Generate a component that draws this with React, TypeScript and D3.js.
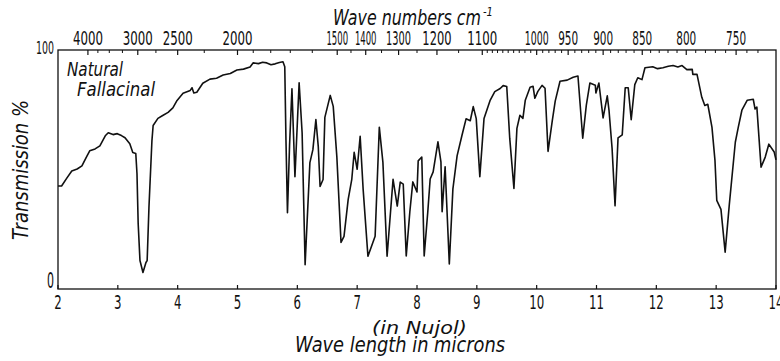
import React from "react";
import * as d3 from "d3";

// Spectrum trace: wavelength in microns, transmission in %
const wavelength = [
  2.0, 2.06, 2.15, 2.23, 2.32, 2.4, 2.47, 2.53, 2.62, 2.7, 2.79, 2.84, 2.92, 2.99, 3.06, 3.12, 3.2, 3.25, 3.3,
  3.32, 3.34, 3.37, 3.42, 3.47, 3.49, 3.52, 3.57, 3.59, 3.67, 3.75, 3.84, 3.92, 3.99, 4.09, 4.21, 4.24, 4.27, 4.32,
  4.42, 4.54, 4.65, 4.76, 4.88, 4.99, 5.1, 5.21, 5.26, 5.35, 5.42, 5.49, 5.56, 5.63, 5.7, 5.76, 5.79,
  5.81, 5.835, 5.87, 5.91, 5.96, 6.03, 6.08, 6.13, 6.21, 6.26, 6.31, 6.35, 6.38, 6.43, 6.46, 6.55, 6.6, 6.66,
  6.73, 6.78, 6.85, 6.91, 6.95, 7.0, 7.05, 7.1, 7.18, 7.3, 7.37, 7.43, 7.5, 7.6, 7.67, 7.72, 7.77, 7.82, 7.88,
  7.93, 8.0, 8.02, 8.08, 8.12, 8.18, 8.22, 8.27, 8.35, 8.4, 8.42, 8.47, 8.54, 8.6, 8.67, 8.75, 8.82, 8.89, 8.94,
  8.99, 9.05, 9.12, 9.22, 9.3, 9.39, 9.44, 9.5, 9.55, 9.62, 9.67, 9.72, 9.77, 9.81, 9.89, 9.94, 9.97, 10.02,
  10.09, 10.14, 10.19, 10.26, 10.31, 10.39, 10.51, 10.61, 10.69, 10.77, 10.83, 10.89, 10.98, 10.99, 11.04, 11.11,
  11.18, 11.21, 11.26, 11.31, 11.36, 11.43, 11.48, 11.53, 11.58, 11.64, 11.69, 11.76, 11.81, 11.94, 12.02, 12.11,
  12.2, 12.28, 12.36, 12.43, 12.51, 12.6, 12.61, 12.68, 12.76, 12.81, 12.86, 12.93, 12.98, 13.01, 13.08, 13.15,
  13.22, 13.32, 13.37, 13.43, 13.52, 13.62, 13.65, 13.68, 13.75, 13.82, 13.88, 13.97, 14.0,
];
const transmission = [
  43.1, 43.1, 46.5, 49.4, 50.2, 51.5, 55.0, 57.8, 58.6, 59.9, 64.1, 65.4, 64.6, 65.0, 64.2, 63.3, 60.8, 57.1, 56.7,
  48.3, 27.4, 11.9, 6.9, 11.1, 11.9, 34.1, 62.1, 68.4, 71.4, 72.6, 73.9, 75.8, 78.9, 81.9, 83.1, 84.2, 82.0, 82.3,
  86.1, 87.8, 88.2, 89.5, 90.2, 91.6, 92.0, 92.9, 94.6, 94.3, 94.9, 94.6, 93.8, 94.2, 94.8, 95.1, 93.0,
  62.4, 31.9, 60.0, 83.8, 47.0, 86.3, 65.4, 10.2, 52.9, 58.3, 70.9, 59.6, 42.9, 45.8, 71.8, 81.0, 76.4, 55.5,
  19.5, 22.0, 37.5, 45.9, 57.2, 50.1, 63.9, 41.7, 13.7, 22.1, 67.7, 53.1, 13.7, 45.9, 34.7, 44.7, 43.9, 13.8, 32.2,
  44.8, 40.6, 53.6, 55.2, 13.8, 32.2, 46.0, 49.0, 61.6, 53.2, 32.3, 51.1, 10.5, 41.9, 55.7, 64.1, 71.2, 70.4, 76.3,
  71.3, 47.0, 71.3, 78.8, 82.6, 83.9, 85.1, 84.7, 63.0, 42.1, 67.2, 72.7, 71.4, 79.0, 84.4, 84.8, 79.8, 82.7,
  85.2, 84.0, 57.6, 70.2, 78.6, 86.9, 87.4, 88.6, 89.1, 63.1, 76.9, 86.2, 85.3, 82.0, 86.2, 71.6,
  80.8, 74.5, 59.0, 34.8, 63.2, 64.5, 84.2, 84.2, 70.8, 85.5, 88.4, 87.6, 92.6, 93.0, 92.2, 92.6,
  93.2, 93.5, 92.9, 93.5, 91.8, 91.9, 89.8, 89.8, 80.2, 76.8, 77.3, 67.6, 53.8, 37.1, 33.3, 15.4,
  35.4, 61.4, 67.7, 74.8, 79.0, 79.4, 75.3, 76.1, 51.0, 55.2, 60.6, 57.3, 54.0,
];

const micronTicks = [2, 3, 4, 5, 6, 7, 8, 9, 10, 11, 12, 13, 14];
const waveNumberLabels = [4000, 3000, 2500, 2000, 1500, 1400, 1300, 1200, 1100, 1000, 950, 900, 850, 800, 750];
const waveNumberMinor = [
  3750, 3500, 3250, 2750, 2250, 1900, 1800, 1700, 1600, 1450, 1350, 1250, 1150,
  1090, 1080, 1070, 1060, 1050, 1040, 1030, 1020, 1010, 990, 980, 970, 960, 940, 930, 920, 910,
  890, 880, 870, 860, 840, 830, 820, 810, 790, 780, 770, 760, 740, 730,
];

const W = 780;
const H = 361;
const left = 58;
const right = 776;
const top = 50;
const bottom = 289;

const FONT = "'DejaVu Sans', sans-serif";
const INK = "#111";

function Narrow(props: {
  x: number;
  y: number;
  width: number;
  size: number;
  anchor?: "start" | "middle" | "end";
  italic?: boolean;
  children: React.ReactNode;
}) {
  const { x, y, width, size, anchor = "start", italic, children } = props;
  let x0 = x;
  if (anchor === "middle") x0 = x - width / 2;
  if (anchor === "end") x0 = x - width;
  return (
    <text
      x={x0}
      y={y}
      fontSize={size}
      textLength={width}
      lengthAdjust="spacingAndGlyphs"
      fontStyle={italic ? "italic" : "normal"}
      fill={INK}
    >
      {children}
    </text>
  );
}

export default function App() {
  const x = d3.scaleLinear().domain([2, 14]).range([left, right]);
  const y = d3.scaleLinear().domain([0, 100]).range([bottom, top]);
  const pts: [number, number][] = wavelength.map((w, i) => [w, transmission[i]]);
  const line = d3
    .line<[number, number]>()
    .x((d) => x(d[0]))
    .y((d) => y(d[1]))
    .curve(d3.curveLinear);

  const topPos = waveNumberLabels.map((n) => x(10000 / n));
  const labelWidth = (i: number) => {
    const digits = String(waveNumberLabels[i]).length;
    const cap = digits === 4 ? 30 : 20;
    const gl = i > 0 ? topPos[i] - topPos[i - 1] : 1e9;
    const gr = i < topPos.length - 1 ? topPos[i + 1] - topPos[i] : 1e9;
    return Math.min(cap, 0.76 * Math.min(gl, gr));
  };

  return (
    <svg
      width={W}
      height={H}
      style={{ position: "absolute", left: 0, top: 0, background: "#fff" }}
      fontFamily={FONT}
    >
      <rect x={0} y={0} width={W} height={H} fill="#fff" />
      {/* frame */}
      <rect x={left} y={top} width={right - left} height={bottom - top} fill="none" stroke={INK} strokeWidth={1.3} />

      {/* bottom ticks and labels */}
      {micronTicks.map((t) => (
        <g key={"m" + t}>
          <line x1={x(t)} x2={x(t)} y1={bottom} y2={bottom - 4} stroke={INK} strokeWidth={1.2} />
          <Narrow x={x(t)} y={bottom + 20} size={20} width={String(t).length * 7.5} anchor="middle">
            {t}
          </Narrow>
        </g>
      ))}

      {/* top wave number ticks */}
      {waveNumberMinor.map((n) => (
        <line key={"n" + n} x1={x(10000 / n)} x2={x(10000 / n)} y1={top} y2={top + 3} stroke={INK} strokeWidth={1} />
      ))}
      {waveNumberLabels.map((n, i) => (
        <g key={"w" + n}>
          <line x1={topPos[i]} x2={topPos[i]} y1={top} y2={top + 5} stroke={INK} strokeWidth={1.2} />
          <Narrow x={topPos[i]} y={top - 5} size={20} width={labelWidth(i)} anchor="middle">
            {n}
          </Narrow>
        </g>
      ))}

      {/* y labels */}
      <Narrow x={left - 4} y={top + 4} size={18} width={18} anchor="end">100</Narrow>
      <Narrow x={left - 4} y={bottom - 1} size={21} width={7} anchor="end">0</Narrow>

      {/* titles */}
      <Narrow x={333} y={25} size={21} width={148} italic>
        Wave numbers cm
      </Narrow>
      <Narrow x={483} y={16} size={12} width={10} italic>
        -1
      </Narrow>
      <g transform={`translate(28,${240}) rotate(-90)`}>
        <Narrow x={0} y={0} size={22} width={140} italic>
          Transmission  %
        </Narrow>
      </g>
      <Narrow x={372} y={334} size={18} width={95} italic>
        (in Nujol)
      </Narrow>
      <Narrow x={295} y={352} size={21} width={210} italic>
        Wave length in microns
      </Narrow>
      <Narrow x={67} y={76} size={19} width={56} italic>Natural</Narrow>
      <Narrow x={77} y={96} size={19} width={78} italic>Fallacinal</Narrow>

      {/* spectrum */}
      <path d={line(pts) || ""} fill="none" stroke={INK} strokeWidth={1.6} strokeLinejoin="round" />
    </svg>
  );
}
